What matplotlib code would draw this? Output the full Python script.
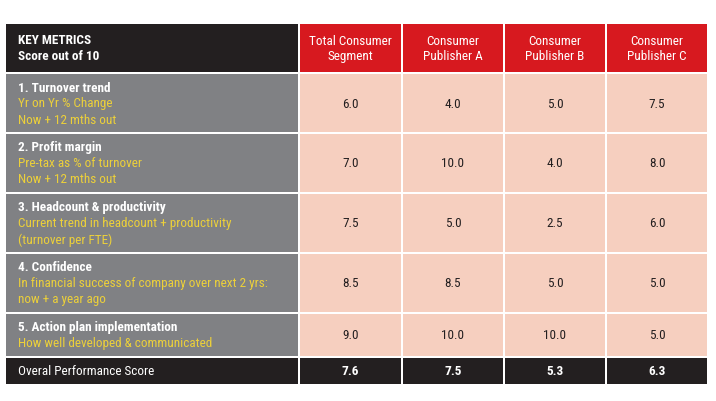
import matplotlib
matplotlib.use("Agg")
import matplotlib.pyplot as plt
from matplotlib.patches import Rectangle

# ==================================================
# DATA
# ==================================================

columns = ["Total Consumer\nSegment", "Consumer\nPublisher A",
           "Consumer\nPublisher B", "Consumer\nPublisher C"]

metric_titles = ["1. Turnover trend", "2. Profit margin",
                 "3. Headcount & productivity", "4. Confidence",
                 "5. Action plan implementation"]

metric_notes = [
    ["Yr on Yr % Change", "Now + 12 mths out"],
    ["Pre-tax as % of turnover", "Now + 12 mths out"],
    ["Current trend in headcount + productivity", "(turnover per FTE)"],
    ["In financial success of company over next 2 yrs:", "now + a year ago"],
    ["How well developed & communicated"],
]

scores = [
    [6.0, 4.0, 5.0, 7.5],
    [7.0, 10.0, 4.0, 8.0],
    [7.5, 5.0, 2.5, 6.0],
    [8.5, 8.5, 5.0, 5.0],
    [9.0, 10.0, 10.0, 5.0],
]

overall_label = "Overal Performance Score"
overall = [7.6, 7.5, 5.3, 6.3]

# ==================================================
# STYLE / LAYOUT (pixels)
# ==================================================

BLACK = "#231f20"
RED = "#d7191f"
GREY = "#808184"
PINK = "#f6cfbf"
YELLOW = "#ecd03a"
FONT = ["Roboto Condensed", "Liberation Sans Narrow", "Roboto", "DejaVu Sans"]
FS = 9.5

W, H = 716, 402
col_x = [6, 300, 403, 505, 607, 709]       # column edges
row_y = [25, 75, 135, 195, 255, 315, 359, 387]  # row edges
gap = 2

fig = plt.figure(figsize=(W / 100, H / 100), dpi=100)
ax = fig.add_axes([0, 0, 1, 1])
ax.set_xlim(0, W)
ax.set_ylim(H, 0)
ax.axis("off")


def cell(x0, x1, y0, y1, color):
    ax.add_patch(Rectangle((x0, y0), x1 - x0 - gap, y1 - y0 - gap,
                           facecolor=color, edgecolor="none"))


def col_center(j):
    return (col_x[j] + col_x[j + 1] - gap) / 2


# ==================================================
# HEADER
# ==================================================

cell(col_x[0], col_x[1], row_y[0], row_y[1], BLACK)
ym = (row_y[0] + row_y[1] - gap) / 2
ax.text(18, ym - 8, "KEY METRICS", color="white", fontsize=FS,
        fontweight="bold", family=FONT, va="center", ha="left")
ax.text(18, ym + 8, "Score out of 10", color="white", fontsize=FS,
        fontweight="bold", family=FONT, va="center", ha="left")

for j, name in enumerate(columns):
    cell(col_x[j + 1], col_x[j + 2], row_y[0], row_y[1], RED)
    ax.text(col_center(j + 1), ym, name, color="white", fontsize=FS,
            family=FONT, va="center", ha="center", linespacing=1.25)

# ==================================================
# METRIC ROWS
# ==================================================

for i, title in enumerate(metric_titles):
    y0, y1 = row_y[i + 1], row_y[i + 2]
    ym = (y0 + y1 - gap) / 2
    cell(col_x[0], col_x[1], y0, y1, GREY)

    lines = [title] + metric_notes[i]
    start = ym - (len(lines) - 1) * 16 / 2
    for k, line in enumerate(lines):
        ax.text(18, start + k * 16, line,
                color="white" if k == 0 else YELLOW,
                fontsize=FS, fontweight="bold" if k == 0 else "normal",
                family=FONT, va="center", ha="left")

    for j, v in enumerate(scores[i]):
        cell(col_x[j + 1], col_x[j + 2], y0, y1, PINK)
        ax.text(col_center(j + 1), ym, f"{v:.1f}", color=BLACK,
                fontsize=FS, family=FONT, va="center", ha="center")

# ==================================================
# OVERALL ROW
# ==================================================

y0, y1 = row_y[-2], row_y[-1]
ym = (y0 + y1 - gap) / 2
cell(col_x[0], col_x[1], y0, y1, BLACK)
ax.text(18, ym, overall_label, color="white", fontsize=FS,
        family=FONT, va="center", ha="left")
for j, v in enumerate(overall):
    cell(col_x[j + 1], col_x[j + 2], y0, y1, BLACK)
    ax.text(col_center(j + 1), ym, f"{v:.1f}", color="white",
            fontsize=FS, fontweight="bold", family=FONT,
            va="center", ha="center")

fig.savefig("out.png", dpi=100, facecolor="white")
